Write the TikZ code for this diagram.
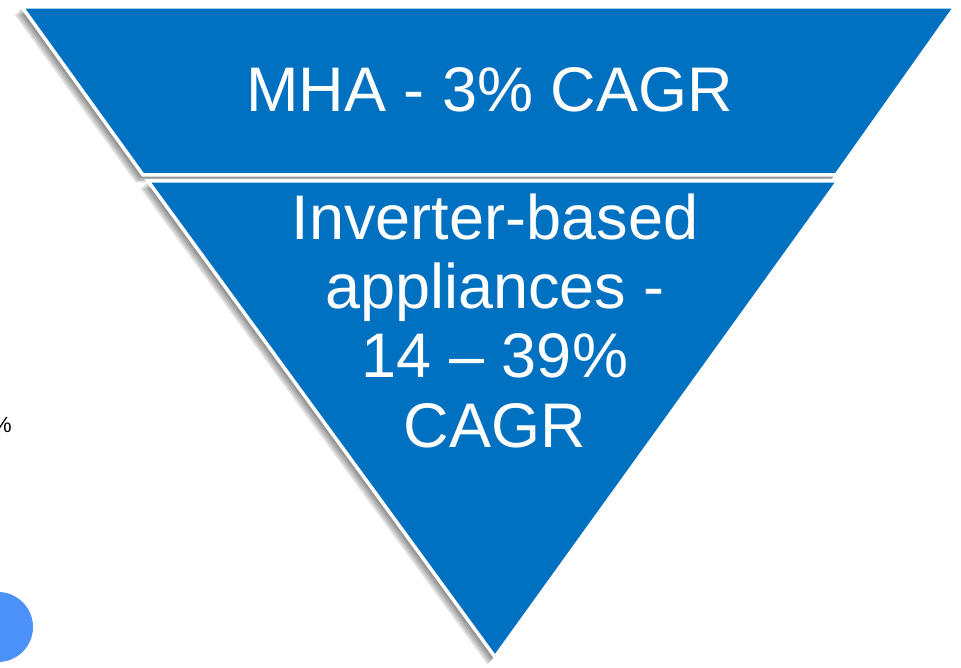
\documentclass[tikz,border=0pt]{standalone}
\usepackage{fontspec}
\setmainfont{Liberation Sans}
\definecolor{funnelblue}{RGB}{0,112,192}
\definecolor{dotblue}{RGB}{76,146,250}
\begin{document}
\begin{tikzpicture}[x=1pt,y=-1pt,
  band/.style={fill=funnelblue,draw=white,line width=3.5pt,line join=miter},
  shadowpart/.style={fill=black,fill opacity=0.12,draw=none},
  bigtext/.style={text=white,font=\fontsize{63}{69.3}\selectfont,inner sep=0pt,align=center},
  smalltext/.style={text=black,font=\fontsize{22}{24}\selectfont,inner sep=0pt}]
\useasboundingbox (0,0) rectangle (961,668);
\clip (0,0) rectangle (961,668);
% blue blob at lower left
\fill[dotblue] (-2,627) ellipse [x radius=35, y radius=35];
\node[smalltext,anchor=base east] (pct) at (12,432) {\%};
% shadows
\foreach \s in {1.5,3,4.5,6,7.5}{
  \fill[shadowpart] ([shift={(-\s,\s)}]22,7) -- ([shift={(-\s,\s)}]955,7) -- ([shift={(-\s,\s)}]836,175) -- ([shift={(-\s,\s)}]143,175) -- cycle;
  \fill[shadowpart] ([shift={(-\s,\s)}]148,181) -- ([shift={(-\s,\s)}]838,181) -- ([shift={(-\s,\s)}]495,657) -- cycle;
}
% funnel bands
\draw[band] (22,7) coordinate (tl) -- (955,7) coordinate (tr) -- (836,175) coordinate (br) -- (143,175) coordinate (bl) -- cycle;
\draw[band] (148,181) coordinate (ll) -- (838,181) coordinate (lr) -- (495,657) coordinate (apex) -- cycle;
% texts
\node[bigtext,anchor=base] (mha) at (489.5,112) {MHA - 3\% CAGR};
\node[bigtext,anchor=base] (inv) at (495,447) {Inverter-based\\appliances -\\14 – 39\%\\CAGR};
\end{tikzpicture}
\end{document}
